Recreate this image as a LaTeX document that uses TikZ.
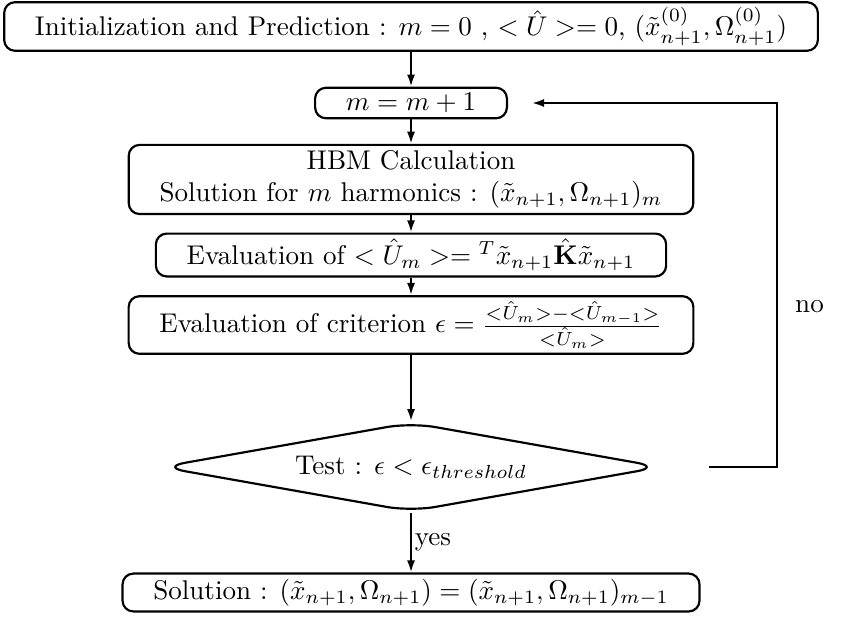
\documentclass[tikz,border=0pt]{standalone}
\usepackage{tikz}
\usetikzlibrary{arrows.meta,shapes.geometric}

\begin{document}
\begin{tikzpicture}[>={Latex[length=4.5pt,width=3pt]},
    box/.style={draw,thick,rounded corners,align=center,inner xsep=0.4cm,inner ysep=2pt},
    test/.style={draw,thick,diamond,rounded corners=9pt,aspect=5.4,inner sep=0pt,minimum width=6.5cm,minimum height=1.16cm}]
    \useasboundingbox (-5.338,0) rectangle (5.727,-8.169);
    \node[box] (init) at (0,-0.344) {Initialization and Prediction : $m=0$ , $<\hat{U}>=0$, $(\tilde{x}^{(0)}_{n+1},\Omega^{(0)}_{n+1})$};
    \node[box,minimum width=2.25cm] (inc) at (0,-1.338) {$m=m+1$};
    \node[box] (hbm) at (0,-2.331) {HBM Calculation\\ Solution for $m$ harmonics : $(\tilde{x}_{n+1},\Omega_{n+1})_m$};
    \node[box] (energy) at (0,-3.312) {Evaluation of $<\hat{U}_m>={}^T\tilde{x}_{n+1}\hat{\mathbf{K}}\tilde{x}_{n+1}$};
    \node[box] (crit) at (0,-4.221) {Evaluation of criterion $\epsilon=\frac{<\hat{U}_m>-<\hat{U}_{m-1}>}{<\hat{U}_m>}$};
    \node[test] (thr) at (0,-6.065) {Test : $\epsilon<\epsilon_{threshold}$};
    \node[box] (sol) at (0,-7.695) {Solution : $(\tilde{x}_{n+1},\Omega_{n+1})=(\tilde{x}_{n+1},\Omega_{n+1})_{m-1}$};
    \coordinate (back) at (4.753,-6.065);
    \draw[->,thick] (init)--(inc);
    \draw[->,thick] (inc)--(hbm);
    \draw[->,thick] (hbm)--(energy);
    \draw[->,thick] (energy)--(crit);
    \draw[->,thick] (crit)--(thr);
    \draw[->,thick] (thr)-- node[right,inner sep=1pt] {yes} (sol);
    \draw[->,thick,shorten <=0.61cm,shorten >=0.31cm] (thr.east) -- (back) |- node[pos=0.22,right=3pt] {no} (inc.east);
  \end{tikzpicture}
\end{document}
